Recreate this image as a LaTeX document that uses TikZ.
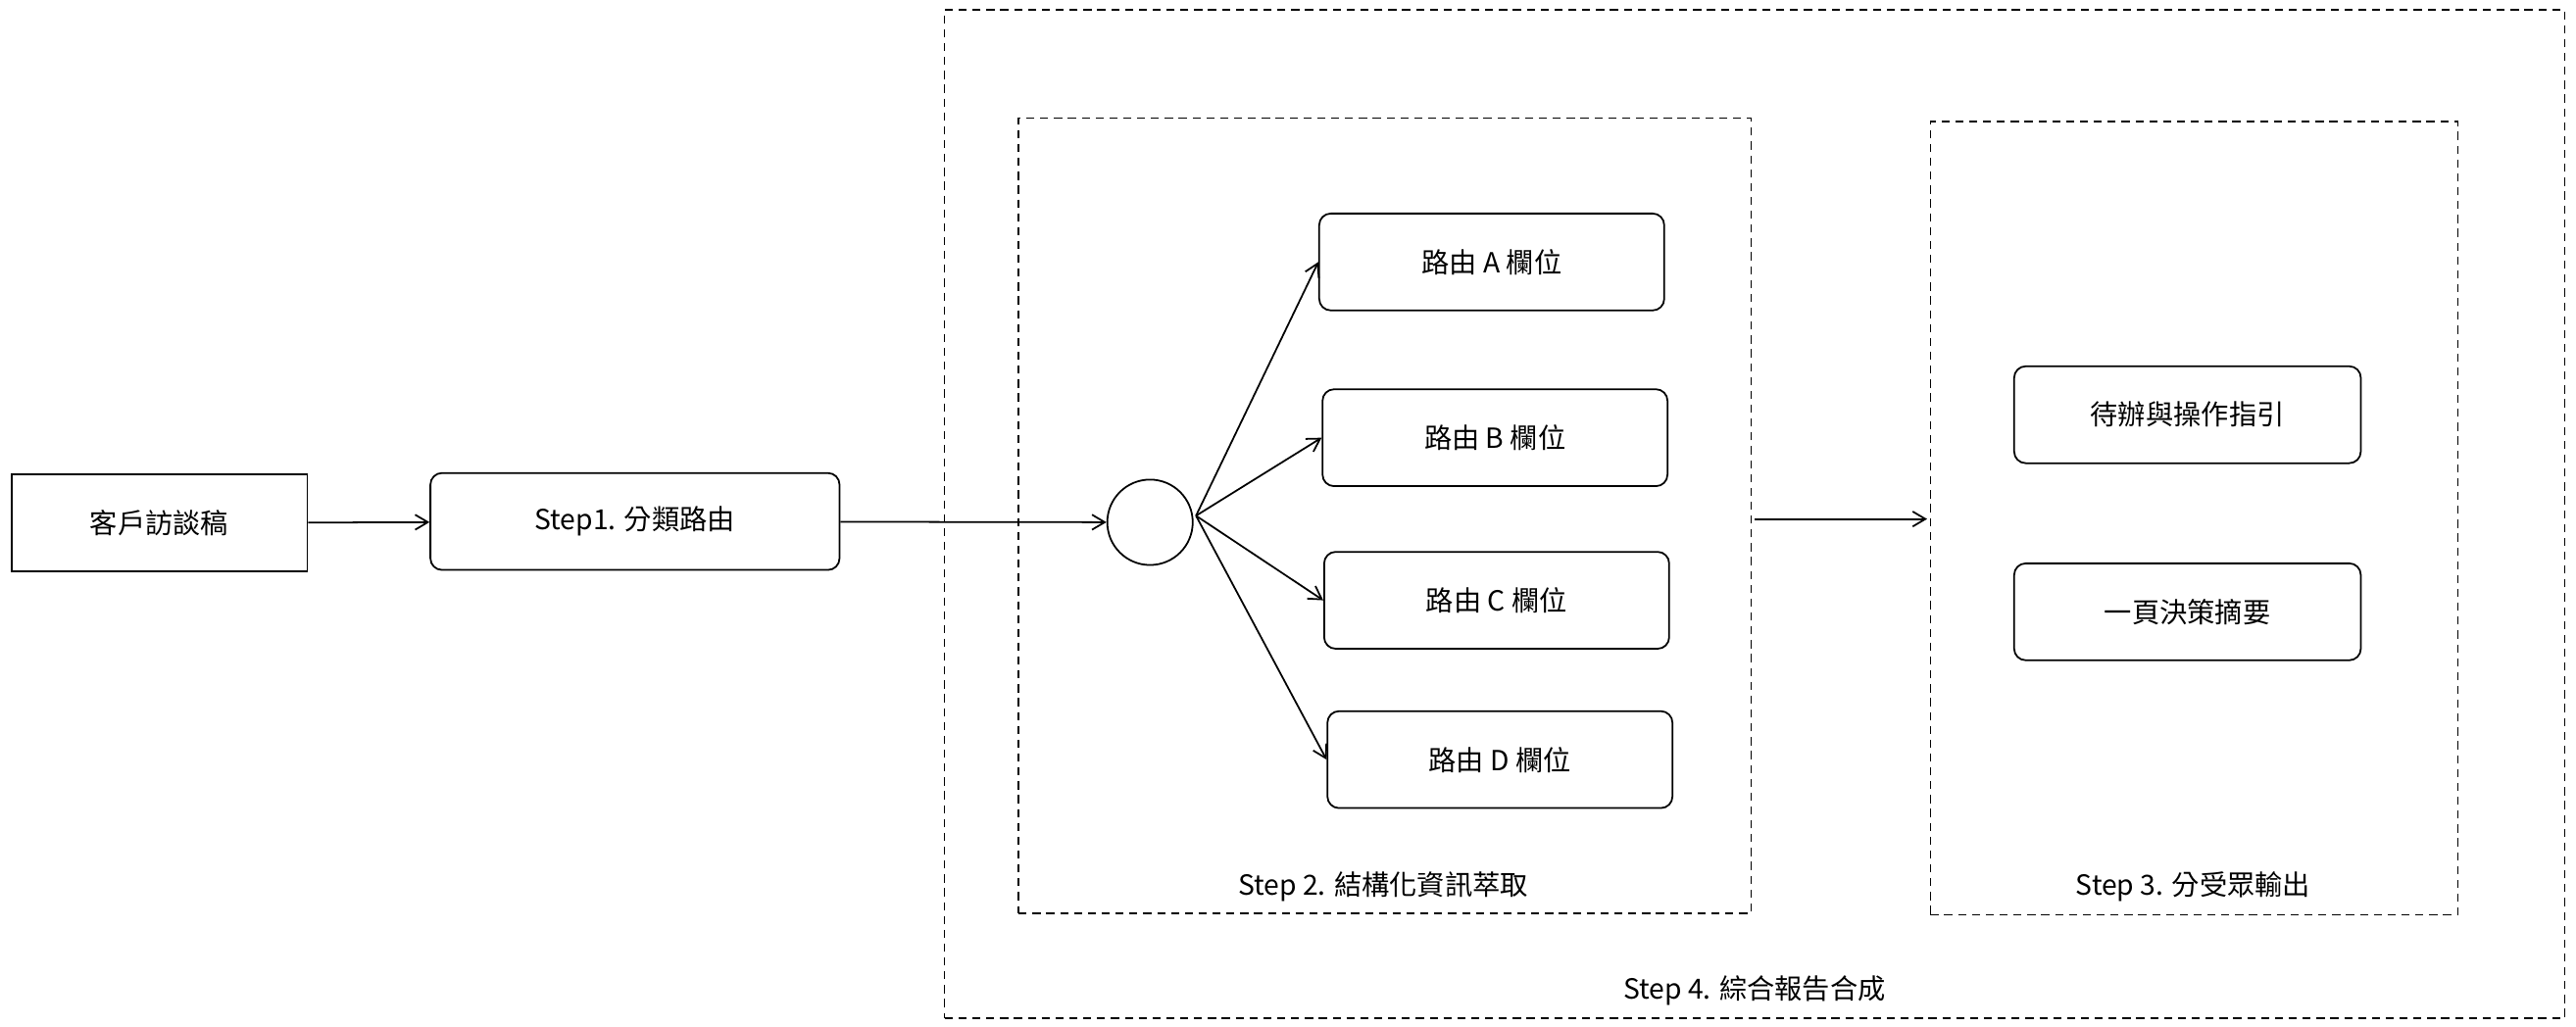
\documentclass[tikz,border=0pt]{standalone}
\usepackage{fontspec}
\setmainfont{Noto Sans CJK TC}
\usetikzlibrary{fit,arrows.meta}
\begin{document}
\begin{tikzpicture}[x=0.05cm,y=-0.05cm,
  box/.style={draw,line width=1.5pt,inner sep=0pt},
  rbox/.style={box,rounded corners=10pt},
  dbox/.style={draw,line width=1.2pt,dash pattern=on 7pt off 5pt,inner sep=0pt},
  lab/.style={font=\fontsize{24}{28}\selectfont},
  arr/.style={line width=1.5pt,-{Straight Barb[length=11pt,width=13pt]}}]
\useasboundingbox (0,0) rectangle (1568,625);
\node[dbox,fit={(575,6)(1561,620)}] (outer) {};
\node[dbox,fit={(620,72)(1066,556)}] (s2) {};
\node[dbox,fit={(1175,74)(1496,557)}] (s3) {};
\node[lab] (l2) at (842,540) {Step 2. 結構化資訊萃取};
\node[lab] (l3) at (1335,540) {Step 3. 分受眾輸出};
\node[lab] (l4) at (1068,603) {Step 4. 綜合報告合成};
\node[box,fit={(7,289)(187,348)}] (in) {};
\node[rbox,fit={(262,288)(511,347)}] (s1) {};
\node[draw,circle,line width=1.5pt,minimum size=2.6cm,inner sep=0pt] (c) at (700,318) {};
\node[rbox,fit={(803,130)(1013,189)}] (ra) {};
\node[rbox,fit={(805,237)(1015,296)}] (rb) {};
\node[rbox,fit={(806,336)(1016,395)}] (rc) {};
\node[rbox,fit={(808,433)(1018,492)}] (rd) {};
\node[rbox,fit={(1226,223)(1437,282)}] (o1) {};
\node[rbox,fit={(1226,343)(1437,402)}] (o2) {};
\node[lab] (tin) at (in.center) {客戶訪談稿};
\node[lab] (ts1) at (s1.center) {Step1. 分類路由};
\node[lab] (tra) at (ra.center) {路由 A 欄位};
\node[lab] (trb) at (rb.center) {路由 B 欄位};
\node[lab] (trc) at (rc.center) {路由 C 欄位};
\node[lab] (trd) at (rd.center) {路由 D 欄位};
\node[lab] (to1) at (o1.center) {待辦與操作指引};
\node[lab] (to2) at (o2.center) {一頁決策摘要};
\draw[arr] (in) -- (s1);
\draw[arr] (s1) -- (c);
\coordinate (cs) at (728,314);
\draw[arr] (cs) -- (ra.west);
\draw[arr] (cs) -- (rb.west);
\draw[arr] (cs) -- (rc.west);
\draw[arr] (cs) -- (rd.west);
\coordinate (a1) at (1068,316);
\coordinate (a2) at (1173,316);
\draw[arr] (a1) -- (a2);
\end{tikzpicture}
\end{document}
